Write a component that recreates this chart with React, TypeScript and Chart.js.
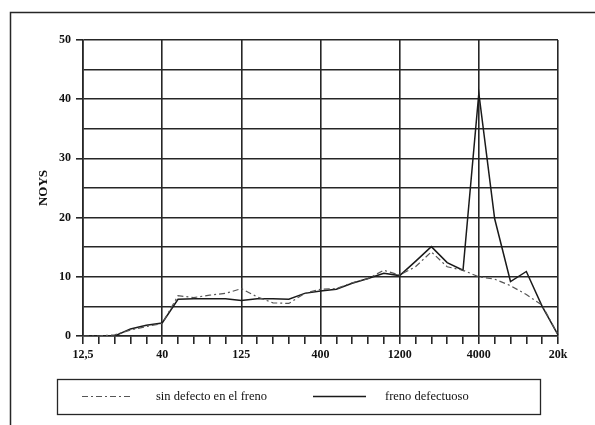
import React, { useEffect, useRef } from "react";
import { Chart, registerables } from "chart.js";

Chart.register(...registerables);

// 1/3-octave bands (31 positions, labelled every 5th)
const bands = [
  "12,5", "16", "20", "25", "31,5", "40", "50", "63", "80", "100",
  "125", "160", "200", "250", "315", "400", "500", "630", "800", "1000",
  "1200", "1600", "2000", "2500", "3150", "4000", "5000", "6300", "8000", "12,5k",
  "20k",
];
const xTickLabels = ["12,5", "40", "125", "400", "1200", "4000", "20k"];

const sinDefecto = [
  0, 0, 0.2, 1.0, 1.6, 2.1, 6.8, 6.5, 6.9, 7.2,
  8.0, 6.6, 5.6, 5.5, 7.2, 7.9, 8.0, 9.0, 9.7, 11.1,
  10.3, 11.7, 14.2, 11.7, 11.1, 10.0, 9.6, 8.5, 7.0, 5.2,
  0.2,
];
const frenoDefectuoso = [
  0, 0, 0, 1.2, 1.8, 2.2, 6.2, 6.3, 6.3, 6.3,
  6.0, 6.3, 6.3, 6.2, 7.2, 7.6, 7.9, 8.9, 9.7, 10.6,
  10.2, 12.6, 15.1, 12.4, 11.1, 41.0, 19.8, 9.2, 10.9, 5.0,
  0.2,
];

const seriesNames = ["sin defecto en el freno", "freno defectuoso"];
const yTitle = "NOYS";

const INK = "#262626";
const DASH = [6, 3, 2, 3];

const decorPlugin = {
  id: "decor",
  afterDraw(chart: any) {
    const ctx = chart.ctx as CanvasRenderingContext2D;
    ctx.save();
    // outer frame (left and top edges of the page scan)
    ctx.strokeStyle = INK;
    ctx.lineWidth = 1.5;
    ctx.beginPath();
    ctx.moveTo(10.5, 425);
    ctx.lineTo(10.5, 12.5);
    ctx.lineTo(595, 12.5);
    ctx.stroke();

    // legend box
    ctx.lineWidth = 1.3;
    ctx.strokeRect(57.5, 379.5, 483, 35);
    const yMid = 396.5;
    const ds = chart.data.datasets;
    // sample 1 (dash-dot)
    ctx.strokeStyle = ds[0].borderColor;
    ctx.lineWidth = ds[0].borderWidth;
    ctx.setLineDash(ds[0].borderDash);
    ctx.beginPath();
    ctx.moveTo(82, yMid);
    ctx.lineTo(133, yMid);
    ctx.stroke();
    // sample 2 (solid)
    ctx.setLineDash([]);
    ctx.strokeStyle = ds[1].borderColor;
    ctx.lineWidth = ds[1].borderWidth;
    ctx.beginPath();
    ctx.moveTo(313, yMid);
    ctx.lineTo(366, yMid);
    ctx.stroke();
    // texts
    ctx.fillStyle = "#111";
    ctx.font = "12.5px 'Liberation Serif', serif";
    ctx.textBaseline = "middle";
    ctx.textAlign = "left";
    ctx.fillText(ds[0].label, 156, yMid);
    ctx.fillText(ds[1].label, 385, yMid);
    ctx.restore();
  },
};

export default function App() {
  const canvasRef = useRef<HTMLCanvasElement | null>(null);

  useEffect(() => {
    const canvas = canvasRef.current;
    if (!canvas) return;
    const chart = new Chart(canvas, {
      type: "line",
      data: {
        labels: bands,
        datasets: [
          {
            label: seriesNames[0],
            data: sinDefecto,
            borderColor: "#555",
            borderWidth: 1.2,
            borderDash: DASH,
            pointRadius: 0,
            tension: 0,
            fill: false,
          },
          {
            label: seriesNames[1],
            data: frenoDefectuoso,
            borderColor: "#1a1a1a",
            borderWidth: 1.5,
            pointRadius: 0,
            tension: 0,
            fill: false,
          },
        ],
      },
      options: {
        animation: false,
        responsive: false,
        devicePixelRatio: 1,
        layout: { padding: { left: 32, right: 37, top: 40, bottom: 0 } },
        plugins: {
          legend: { display: false },
          tooltip: { enabled: false },
        },
        scales: {
          x: {
            type: "category",
            offset: false,
            grid: {
              color: (c: any) => (c.index % 5 === 0 ? INK : "rgba(0,0,0,0)"),
              tickColor: INK,
              lineWidth: 1.6,
              tickLength: 8,
              drawTicks: true,
            },
            border: { color: INK, width: 1.6 },
            ticks: {
              autoSkip: false,
              maxRotation: 0,
              minRotation: 0,
              padding: 4,
              color: "#111",
              font: { family: "'Liberation Serif', serif", size: 12, weight: "bold" },
              callback: (_v: any, i: number) => (i % 5 === 0 ? xTickLabels[i / 5] : ""),
            },
            afterFit: (s: any) => {
              s.height = 89;
            },
          },
          y: {
            min: 0,
            max: 50,
            grid: {
              color: INK,
              lineWidth: 1.6,
              tickLength: 7,
              tickColor: (c: any) =>
                c.tick && c.tick.value % 10 === 0 ? INK : "rgba(0,0,0,0)",
            },
            border: { color: INK, width: 1.6 },
            ticks: {
              stepSize: 5,
              padding: 5,
              color: "#111",
              font: { family: "'Liberation Serif', serif", size: 12, weight: "bold" },
              callback: (v: any) => (Number(v) % 10 === 0 ? String(v) : ""),
            },
            title: {
              display: true,
              text: yTitle,
              color: "#111",
              font: { family: "'Liberation Serif', serif", size: 13, weight: "bold" },
              padding: { top: 4, bottom: 0 },
            },
            afterFit: (s: any) => {
              s.width = 51;
            },
          },
        },
      },
      plugins: [decorPlugin],
    });
    return () => chart.destroy();
  }, []);

  return (
    <div style={{ position: "absolute", left: 0, top: 0, width: 595, height: 425, background: "#fff" }}>
      <canvas ref={canvasRef} width={595} height={425} style={{ display: "block" }} />
    </div>
  );
}
